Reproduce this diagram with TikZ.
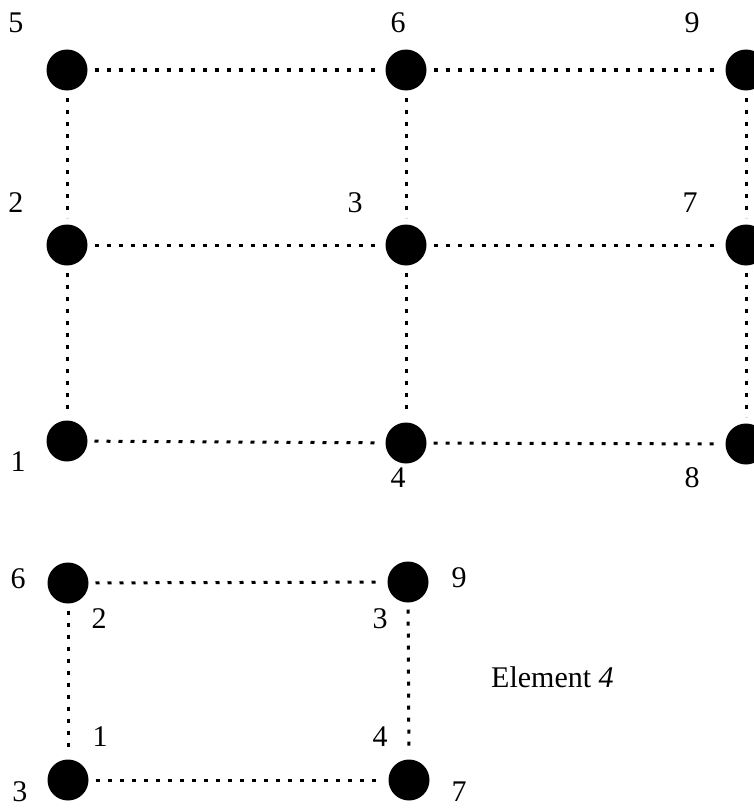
\documentclass[tikz,border=0pt]{standalone}
\usepackage{fontspec}
\setmainfont{Liberation Serif}
\begin{document}
\begin{tikzpicture}[x=1pt,y=-1pt,
  dot/.style={circle,fill=black,inner sep=0pt,minimum size=41pt,outer sep=7pt},
  conn/.style={line width=3pt,dash pattern=on 4pt off 8pt},
  lab/.style={font=\fontsize{30}{34}\selectfont,inner sep=0pt}]
\useasboundingbox (0,0) rectangle (753,808);
% top grid
\node[dot] (n5) at (67,70) {};
\node[dot] (n6) at (406,70) {};
\node[dot] (n9) at (746,70) {};
\node[dot] (n2) at (67,245) {};
\node[dot] (n3) at (406,245) {};
\node[dot] (n7) at (746,245) {};
\node[dot] (n1) at (67,441) {};
\node[dot] (n4) at (406,443) {};
\node[dot] (n8) at (746,444) {};
\draw[conn] (n5) -- (n6);
\draw[conn] (n6) -- (n9);
\draw[conn] (n2) -- (n3);
\draw[conn] (n3) -- (n7);
\draw[conn] (n1) -- (n4);
\draw[conn] (n4) -- (n8);
\draw[conn] (n5) -- (n2);
\draw[conn] (n2) -- (n1);
\draw[conn] (n6) -- (n3);
\draw[conn] (n3) -- (n4);
\draw[conn] (n9) -- (n7);
\draw[conn] (n7) -- (n8);
\node[lab] (l5) at (16,23) {5};
\node[lab] (l6) at (398,23) {6};
\node[lab] (l9) at (692,23) {9};
\node[lab] (l2) at (16,203) {2};
\node[lab] (l3) at (355,203) {3};
\node[lab] (l7) at (690,203) {7};
\node[lab] (l1) at (18,462) {1};
\node[lab] (l4) at (398,478) {4};
\node[lab] (l8) at (692,478) {8};
% element 4
\node[dot] (e6) at (68,583) {};
\node[dot] (e9) at (408,582) {};
\node[dot] (e3) at (68,780) {};
\node[dot] (e7) at (409,780) {};
\draw[conn] (e6) -- (e9);
\draw[conn] (e3) -- (e7);
\draw[conn] (e6) -- (e3);
\draw[conn] (e9) -- (e7);
\node[lab] (g6) at (18,579) {6};
\node[lab] (g9) at (459,578) {9};
\node[lab] (g2) at (99,619) {2};
\node[lab] (g3) at (380,619) {3};
\node[lab] (g1) at (100,737) {1};
\node[lab] (g4) at (380,737) {4};
\node[lab] (g3b) at (20,792) {3};
\node[lab] (g7) at (459,792) {7};
\node[lab,anchor=base west] (el) at (491,687) {Element \textit{4}};
\end{tikzpicture}
\end{document}
